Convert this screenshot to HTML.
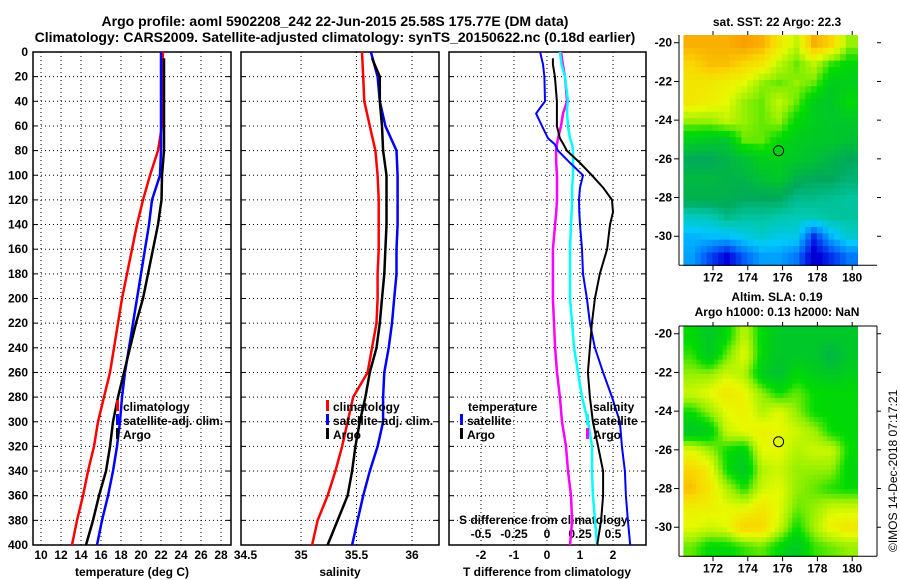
<!DOCTYPE html>
<html><head><meta charset="utf-8"><style>
body{margin:0;background:#fff}
svg{display:block;font-family:"Liberation Sans",sans-serif}
.b{font-weight:bold;font-size:12px}
</style></head><body>
<svg id="c" width="900" height="580" viewBox="0 0 900 580" xmlns="http://www.w3.org/2000/svg">
<text x="335" y="26" text-anchor="middle" font-weight="bold" font-size="14">Argo profile: aoml 5902208_242 22-Jun-2015 25.58S 175.77E (DM data)</text>
<text x="335" y="42" text-anchor="middle" font-weight="bold" font-size="14">Climatology: CARS2009. Satellite-adjusted climatology: synTS_20150622.nc (0.18d earlier)</text>
<text x="777" y="26" text-anchor="middle" class="b">sat. SST: 22 Argo: 22.3</text>
<text x="777" y="301" text-anchor="middle" class="b">Altim. SLA: 0.19</text>
<text x="777" y="316" text-anchor="middle" class="b">Argo h1000: 0.13 h2000: NaN</text>
<text transform="translate(897,552) rotate(-90)" font-size="12">©IMOS 14-Dec-2018 07:17:21</text>
<g id="g"></g>
</svg>
<script>
const depths=[0,20,40,60,80,100,120,140,160,180,200,220,240,260,280,300,320,340,360,380,400];
// temperature (deg C)
const tArgo=[22.3,22.3,22.3,22.3,22.3,22.1,22.05,21.7,21.2,20.7,20.2,19.5,18.9,18.3,17.7,17.2,16.9,16.5,15.8,15.2,14.5];
const tClim=[22.2,22.1,22.1,22.1,21.7,20.9,20.2,19.6,19.1,18.6,18.1,17.7,17.3,16.9,16.3,15.7,15.3,14.7,14.2,13.6,13.1];
const tSat=[22.0,22.0,22.0,22.0,22.0,21.9,21.1,20.8,20.4,20.0,19.6,19.2,18.8,18.4,18.1,17.9,17.6,17.2,16.7,16.1,15.6];
// salinity
const sArgo=[35.64,35.71,35.71,35.73,35.74,35.77,35.77,35.77,35.76,35.75,35.73,35.71,35.68,35.62,35.58,35.53,35.49,35.46,35.42,35.33,35.24];
const sClim=[35.55,35.56,35.57,35.62,35.67,35.69,35.70,35.70,35.70,35.69,35.69,35.68,35.64,35.60,35.47,35.42,35.37,35.31,35.24,35.15,35.10];
const sSat=[35.63,35.69,35.71,35.76,35.86,35.87,35.87,35.87,35.86,35.86,35.84,35.82,35.79,35.75,35.74,35.74,35.69,35.62,35.56,35.51,35.46];
// differences from climatology
const dDepths=[0,10,20,40,45,50,60,70,75,80,90,100,110,120,130,140,160,180,200,220,240,260,280,300,320,340,360,380,400];
const dtSat=[-0.21,-0.12,-0.08,-0.06,-0.2,-0.33,-0.15,0.03,0.24,0.33,0.7,1.09,1.0,0.97,0.98,1.0,1.06,1.09,1.21,1.3,1.45,1.7,1.97,2.21,2.27,2.36,2.39,2.45,2.52];
const dtArgo=[0.18,0.18,0.24,0.3,0.3,0.3,0.3,0.39,0.5,0.6,1.0,1.36,1.7,1.97,2.0,1.91,1.82,1.6,1.45,1.36,1.3,1.24,1.3,1.39,1.55,1.7,1.7,1.64,1.52];
const dsArgo=[0.106,0.12,0.136,0.152,0.136,0.121,0.106,0.083,0.076,0.068,0.07,0.076,0.076,0.076,0.07,0.061,0.045,0.045,0.045,0.053,0.061,0.076,0.098,0.114,0.144,0.159,0.182,0.19,0.174];
const dsSat=[0.098,0.11,0.136,0.159,0.152,0.152,0.159,0.174,0.19,0.197,0.197,0.197,0.19,0.19,0.186,0.182,0.174,0.174,0.174,0.19,0.205,0.235,0.265,0.311,0.341,0.341,0.348,0.364,0.379];
// maps (rows lat -20..-31, cols lon 170.8..179.8)
const sstGrid=[
[0.8,0.8,0.8,0.82,0.8,0.72,0.65,0.8,0.75,0.62],
[0.75,0.78,0.78,0.75,0.72,0.65,0.6,0.65,0.58,0.55],
[0.72,0.72,0.7,0.68,0.62,0.6,0.62,0.6,0.52,0.52],
[0.72,0.7,0.68,0.62,0.6,0.65,0.6,0.52,0.5,0.55],
[0.62,0.62,0.65,0.62,0.6,0.62,0.55,0.52,0.5,0.5],
[0.52,0.5,0.5,0.6,0.6,0.55,0.52,0.5,0.5,0.48],
[0.42,0.42,0.45,0.48,0.52,0.52,0.5,0.48,0.45,0.42],
[0.46,0.46,0.45,0.45,0.48,0.5,0.44,0.42,0.42,0.4],
[0.44,0.44,0.44,0.42,0.42,0.42,0.38,0.38,0.37,0.36],
[0.33,0.34,0.38,0.36,0.36,0.35,0.34,0.34,0.36,0.36],
[0.26,0.27,0.27,0.3,0.32,0.3,0.3,0.14,0.26,0.32],
[0.24,0.16,0.1,0.18,0.24,0.24,0.2,0.08,0.14,0.2]];
const slaGrid=[
[0.55,0.5,0.55,0.65,0.55,0.5,0.5,0.5,0.5,0.5],
[0.58,0.5,0.6,0.68,0.55,0.5,0.5,0.5,0.45,0.5],
[0.62,0.62,0.66,0.64,0.52,0.48,0.55,0.52,0.5,0.52],
[0.66,0.68,0.72,0.69,0.62,0.56,0.6,0.56,0.55,0.55],
[0.56,0.62,0.68,0.7,0.64,0.68,0.62,0.56,0.55,0.55],
[0.5,0.52,0.66,0.68,0.7,0.68,0.66,0.63,0.56,0.55],
[0.68,0.63,0.56,0.53,0.68,0.68,0.64,0.66,0.66,0.56],
[0.75,0.7,0.56,0.5,0.64,0.66,0.62,0.62,0.62,0.54],
[0.78,0.72,0.64,0.57,0.66,0.68,0.62,0.6,0.57,0.56],
[0.7,0.7,0.68,0.68,0.72,0.68,0.6,0.62,0.66,0.66],
[0.68,0.66,0.68,0.76,0.75,0.66,0.56,0.63,0.7,0.72],
[0.6,0.55,0.55,0.58,0.6,0.55,0.5,0.58,0.6,0.62]];
const tTicks=[10,12,14,16,18,20,22,24,26,28];
const sTicks=[34.5,35,35.5,36];
const sTickLabels=['34.5','35','35.5','36'];
const dtTicks=[-2,-1,0,1,2];
const dsTicks=[-0.5,-0.25,0,0.25,0.5];
const dsTickLabels=['-0.5','-0.25','0','0.25','0.5'];
const lonTicks=[172,174,176,178,180];
const latTicks=[-20,-22,-24,-26,-28,-30];
const argoLon=175.77, argoLat=-25.58;

const NS='http://www.w3.org/2000/svg';
const G=document.getElementById('g');
function el(tag,attrs,parent){const e=document.createElementNS(NS,tag);for(const k in attrs)e.setAttribute(k,attrs[k]);(parent||G).appendChild(e);return e;}
const top0=52,bot0=545;
const yD=d=>top0+d*(bot0-top0)/400;
const xT=t=>41+(t-10)*10;
const xS=s=>301+(s-35)*111;
const xDT=v=>547+v*33;
const xDS=v=>547+v*132;
const panels=[[33,231],[241,439],[449,646]];

function line(x1,y1,x2,y2,extra){return el('line',Object.assign({x1,y1,x2,y2,stroke:'#000','stroke-width':1},extra||{}));}
function text(x,y,s,anchor,cls){const t=el('text',{x,y,'text-anchor':anchor||'middle',class:cls||'b'});t.textContent=s;return t;}

panels.forEach((p,i)=>{
  const gp=el('g',{});
  
  
  depths.forEach(d=>{if(d>0&&d<400){const l=line(p[0],yD(d),p[1],yD(d),{'stroke-dasharray':'1,3'});gp.appendChild(l);}
    const tk=line(p[0],yD(d),p[0]+5,yD(d));gp.appendChild(tk);const tk2=line(p[1]-5,yD(d),p[1],yD(d));gp.appendChild(tk2);});
  el('rect',{x:p[0],y:top0,width:p[1]-p[0],height:bot0-top0,fill:'none',stroke:'#000','stroke-width':1.5},gp);
});
depths.forEach(d=>{const t=text(28,yD(d)+4,String(d),'end');});
tTicks.forEach(v=>{line(xT(v),top0,xT(v),bot0,{'stroke-dasharray':'1,3'});const t=text(xT(v),559,String(v));});
sTicks.forEach((v,i)=>{if(i>0)line(xS(v),top0,xS(v),bot0,{'stroke-dasharray':'1,3'});const t=text(xS(v),559,sTickLabels[i]);});
dtTicks.forEach(v=>{line(xDT(v),top0,xDT(v),bot0,{'stroke-dasharray':'1,3'});const t=text(xDT(v),559,String(v));});
dsTicks.forEach((v,i)=>{const t=text(xDS(v),538,dsTickLabels[i]);});
let t;
t=text(132,576,'temperature (deg C)');
t=text(340,576,'salinity');
t=text(547,576,'T difference from climatology');
t=text(459,524,'S difference from climatology','start');

function series(xs,ds,xf,color,name,w){
  const pts=xs.map((v,i)=>xf(v).toFixed(1)+','+yD(ds[i]).toFixed(1)).join(' ');
  const pl=el('polyline',{points:pts,fill:'none',stroke:color,'stroke-width':w||2.5});
  
  
}
series(tClim,depths,xT,'#f00','temp-climatology-line');
series(tSat,depths,xT,'#00f','temp-satellite-line');
series(tArgo,[5].concat(depths.slice(1)),xT,'#000','temp-argo-line');
series(sClim,depths,xS,'#f00','sal-climatology-line');
series(sSat,depths,xS,'#00f','sal-satellite-line');
series(sArgo,[5].concat(depths.slice(1)),xS,'#000','sal-argo-line');
series(dsArgo,dDepths,xDS,'#f0f','sdiff-argo-line');
series(dsSat,dDepths,xDS,'#0ff','sdiff-satellite-line');
series(dtSat,dDepths,xDT,'#00f','tdiff-satellite-line',2);
series(dtArgo,[5].concat(dDepths.slice(1)),xDT,'#000','tdiff-argo-line',2);

function legend(x,y,color,label,name){
  const g=el('g',{});
  
  
  el('rect',{x:x,y:y-11,width:3,height:11,fill:color},g);
  const tt=el('text',{x:x+7,y:y,class:'b'},g);tt.textContent=label;
}
legend(116,411,'#f00','climatology','legend-temp-climatology');
legend(116,425,'#00f','satellite-adj. clim.','legend-temp-satellite');
legend(116,439,'#000','Argo','legend-temp-argo');
legend(326,411,'#f00','climatology','legend-sal-climatology');
legend(326,425,'#00f','satellite-adj. clim.','legend-sal-satellite');
legend(326,439,'#000','Argo','legend-sal-argo');
t=text(468,411,'temperature','start');
legend(460,425,'#00f','satellite','legend-tdiff-satellite');
legend(460,439,'#000','Argo','legend-tdiff-argo');
t=text(593,411,'salinity','start');
legend(586,425,'#0ff','satellite','legend-sdiff-satellite');
legend(586,439,'#f0f','Argo','legend-sdiff-argo');

// colormap stops
const cStops=[[0,[0,0,140]],[0.1,[0,0,220]],[0.2,[0,120,255]],[0.28,[0,200,255]],[0.35,[0,200,170]],[0.42,[0,170,90]],[0.5,[0,200,40]],[0.56,[0,220,0]],[0.62,[150,240,0]],[0.68,[230,250,0]],[0.75,[250,215,0]],[0.82,[250,160,0]],[0.9,[230,100,0]]];
function cmap(v){
  if(v<=cStops[0][0])return 'rgb('+cStops[0][1].join(',')+')';
  for(let i=1;i<cStops.length;i++){if(v<=cStops[i][0]){const a=cStops[i-1],b=cStops[i];const f=(v-a[0])/(b[0]-a[0]);return 'rgb('+a[1].map((c,k)=>Math.round(c+(b[1][k]-c)*f)).join(',')+')';}}
  return 'rgb('+cStops[cStops.length-1][1].join(',')+')';
}
function drawMap(grid,y0,name,smooth){
  const x0=679,frameR=877,lonL=170.3,lonR=180.3,latT=-19.6,latB=-31.5;
  const pxLon=17.4,pxLat=19.35;
  const yLat0=y0+0.4*pxLat;
  const xL=lon=>713+(lon-172)*pxLon;
  const yL=lat=>yLat0+(-20-lat)*pxLat;
  const g=el('g',{});
  
  
  const nr=grid.length,nc=grid[0].length;
  const sub=smooth?4:3;
  const cw=(lonR-lonL)/nc,ch=(latT-latB)/nr;
  for(let r=0;r<nr*sub;r++)for(let c=0;c<nc*sub;c++){
    const fr=(r+0.5)/sub-0.5,fc=(c+0.5)/sub-0.5;
    const r0=Math.max(0,Math.min(nr-1,Math.floor(fr))),c0=Math.max(0,Math.min(nc-1,Math.floor(fc)));
    const r1=Math.min(nr-1,r0+1),c1=Math.min(nc-1,c0+1);
    const ar=Math.max(0,Math.min(1,fr-r0)),ac=Math.max(0,Math.min(1,fc-c0));
    const v=grid[r0][c0]*(1-ar)*(1-ac)+grid[r0][c1]*(1-ar)*ac+grid[r1][c0]*ar*(1-ac)+grid[r1][c1]*ar*ac;
    const lon=lonL+c*cw/sub,lat=latT-r*ch/sub;
    el('rect',{x:xL(lon).toFixed(1),y:yL(lat).toFixed(1),width:(cw/sub*pxLon+0.6).toFixed(1),height:(ch/sub*pxLat+0.6).toFixed(1),fill:cmap(v)},g);
  }
  const yB=yL(latB);
  line(x0,y0,x0,yB);line(x0,yB,frameR,yB);
  if(smooth){line(x0,y0,frameR,y0);line(frameR,y0,frameR,yB);}
  lonTicks.forEach(l=>{line(xL(l),yB,xL(l),yB+5);line(xL(l),y0,xL(l),y0-4);const tt=text(xL(l),yB+16,String(l));});
  latTicks.forEach(l=>{line(x0-5,yL(l),x0,yL(l));line(frameR,yL(l),frameR+4,yL(l));const tt=text(672,yL(l)+4,String(l),'end');});
  const m=el('circle',{cx:xL(argoLon),cy:yL(argoLat),r:5,fill:'none',stroke:'#000','stroke-width':1});
  
  
}
drawMap(sstGrid,35,'sst-map',false);
drawMap(slaGrid,326,'sla-map',true);
</script>
</body></html>
